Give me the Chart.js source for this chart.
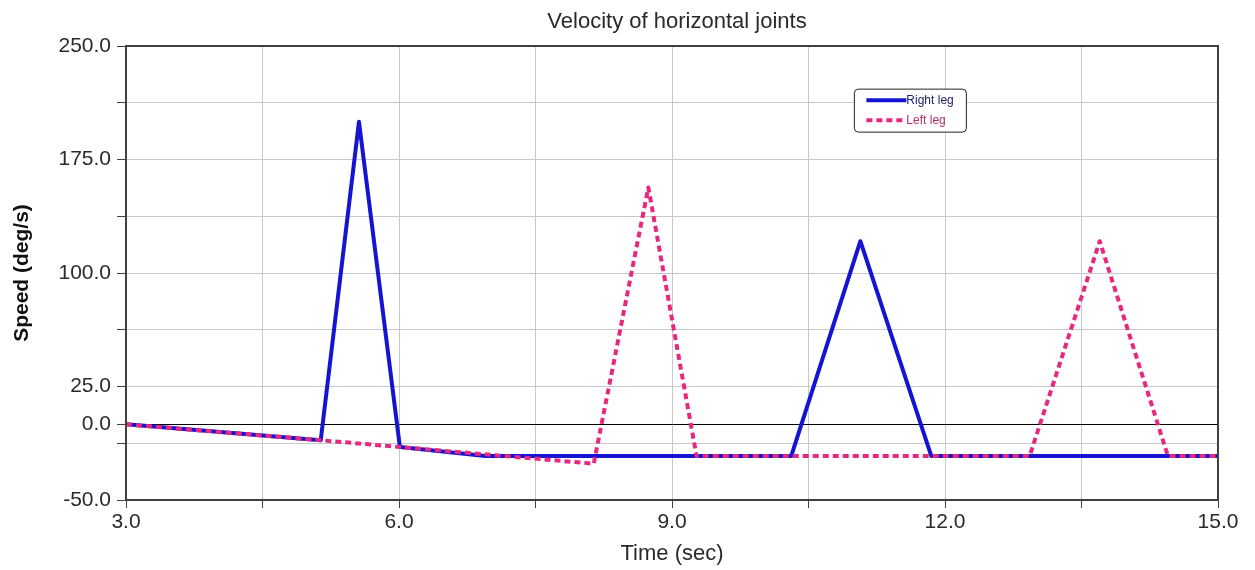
<!DOCTYPE html>
<html>
<head>
<meta charset="utf-8">
<script src="https://cdn.jsdelivr.net/npm/chart.js@4"></script>
<style>
    html, body { margin: 0; padding: 0; background: #ffffff; }
    #wrap { width: 1255px; height: 570px; }
</style>
</head>
<body>
<div id="wrap"><canvas id="myChart" width="1255" height="570"></canvas></div>
<script>
// series values
const timeRight = [3.0, 5.14, 5.56, 6.01, 6.95, 10.31, 11.07, 11.85, 15.0];
const speedRight = [0, -10.5, 200, -15, -21, -21, 121, -21, -21];

const timeLeft = [3.0, 5.14, 6.01, 8.14, 8.74, 9.27, 12.93, 13.70, 14.45, 15.0];
const speedLeft = [0, -10.5, -15, -26, 156.5, -21, -21, 121, -21, -21];

// ticks
const xTickValues = [3, 4.5, 6, 7.5, 9, 10.5, 12, 13.5, 15];
const xLabelledValues = [3, 6, 9, 12, 15];
const yTickValues = [-50, -12.5, 0, 25, 62.5, 100, 137.5, 175, 212.5, 250];
const yLabelledValues = [-50, 0, 25, 100, 175, 250];

const seriesNames = ['Right leg', 'Left leg'];
const titleText = 'Velocity of horizontal joints';

const FONT = '"Liberation Sans", Arial, sans-serif';
const BLUE = '#1414d2';
const PINK = '#e6287f';
const GRID = '#c8c8c8';

function toPoints(xs, ys) {
    return xs.map((x, i) => ({ x: x, y: ys[i] }));
}

// title centred over plot area + frame round it
const framePlugin = {
    id: 'frame',
    afterDraw(chart) {
        const a = chart.chartArea;
        const ctx = chart.ctx;
        ctx.save();
        ctx.strokeStyle = '#404040';
        ctx.lineWidth = 2;
        ctx.strokeRect(a.left, a.top, a.right - a.left, a.bottom - a.top);
        ctx.fillStyle = '#2a2a2a';
        ctx.font = '22px ' + FONT;
        ctx.textAlign = 'center';
        ctx.textBaseline = 'middle';
        ctx.fillText(titleText, (a.left + a.right) / 2 + 5, 22);
        ctx.restore();
    }
};

// little legend box inside the plot
const boxLegend = {
    id: 'boxLegend',
    afterDraw(chart) {
        const a = chart.chartArea;
        const ctx = chart.ctx;
        const w = a.right - a.left;
        const h = a.bottom - a.top;
        const bx = a.left + w * 0.667;
        const by = a.top + h * 0.095;
        const bw = 112, bh = 43;
        ctx.save();
        ctx.fillStyle = '#fff';
        ctx.strokeStyle = '#222';
        ctx.lineWidth = 1;
        ctx.beginPath();
        ctx.roundRect(bx, by, bw, bh, 4);
        ctx.fill();
        ctx.stroke();

        const textColors = ['#202070', '#b0306a'];
        const order = [1, 0];
        order.forEach((di, row) => {
            const ds = chart.data.datasets[di];
            const y = by + 11 + row * 20;
            ctx.strokeStyle = ds.borderColor;
            ctx.lineWidth = 4;
            ctx.setLineDash(ds.borderDash || []);
            ctx.beginPath();
            ctx.moveTo(bx + 12, y);
            ctx.lineTo(bx + 52, y);
            ctx.stroke();
            ctx.setLineDash([]);
            ctx.fillStyle = textColors[row];
            ctx.font = '12px ' + FONT;
            ctx.textAlign = 'left';
            ctx.textBaseline = 'middle';
            ctx.fillText(ds.label, bx + 52, y + 1);
        });
        ctx.restore();
    }
};

const config = {
    type: 'line',
    data: {
        datasets: [
            {
                label: seriesNames[1],
                data: toPoints(timeLeft, speedLeft),
                borderColor: PINK,
                borderWidth: 4,
                borderDash: [6, 4],
                borderJoinStyle: 'round',
                pointRadius: 0,
                tension: 0,
                fill: false,
                order: 0
            },
            {
                label: seriesNames[0],
                data: toPoints(timeRight, speedRight),
                borderColor: BLUE,
                borderWidth: 4,
                borderJoinStyle: 'round',
                pointRadius: 0,
                tension: 0,
                fill: false,
                order: 1
            }
        ]
    },
    options: {
        responsive: false,
        animation: false,
        layout: { padding: { top: 46, right: 37, left: 0, bottom: 0 } },
        plugins: {
            legend: { display: false },
            title: { display: false },
            tooltip: { enabled: false }
        },
        scales: {
            x: {
                type: 'linear',
                min: 3,
                max: 15,
                afterBuildTicks(scale) {
                    scale.ticks = xTickValues.map(v => ({ value: v }));
                },
                afterFit(scale) { scale.height = 70; },
                ticks: {
                    autoSkip: false,
                    maxRotation: 0,
                    padding: 2,
                    color: '#2a2a2a',
                    font: { family: FONT, size: 21 },
                    callback: v => xLabelledValues.includes(v) ? v.toFixed(1) : ''
                },
                grid: {
                    color: GRID,
                    tickColor: '#444',
                    tickLength: 8,
                    lineWidth: 1
                },
                border: { display: true, color: '#404040', width: 2 },
                title: {
                    display: true,
                    text: 'Time (sec)',
                    color: '#2a2a2a',
                    font: { family: FONT, size: 22 },
                    padding: { top: 0, bottom: 3 }
                }
            },
            y: {
                type: 'linear',
                min: -50,
                max: 250,
                afterBuildTicks(scale) {
                    scale.ticks = yTickValues.map(v => ({ value: v }));
                },
                afterFit(scale) { scale.width = 126; },
                ticks: {
                    autoSkip: false,
                    padding: 6,
                    color: '#2a2a2a',
                    font: { family: FONT, size: 21 },
                    callback: v => yLabelledValues.includes(v) ? v.toFixed(1) : ''
                },
                grid: {
                    color: c => (c.tick && c.tick.value === 0) ? '#000' : GRID,
                    tickColor: '#444',
                    tickLength: 9,
                    lineWidth: 1
                },
                border: { display: true, color: '#404040', width: 2 },
                title: {
                    display: true,
                    text: 'Speed (deg/s)',
                    color: '#111',
                    font: { family: FONT, size: 21, weight: 'bold' },
                    padding: { top: 10, bottom: 0 }
                }
            }
        }
    },
    plugins: [framePlugin, boxLegend]
};

const myChart = new Chart(document.getElementById('myChart'), config);
</script>
</body>
</html>
